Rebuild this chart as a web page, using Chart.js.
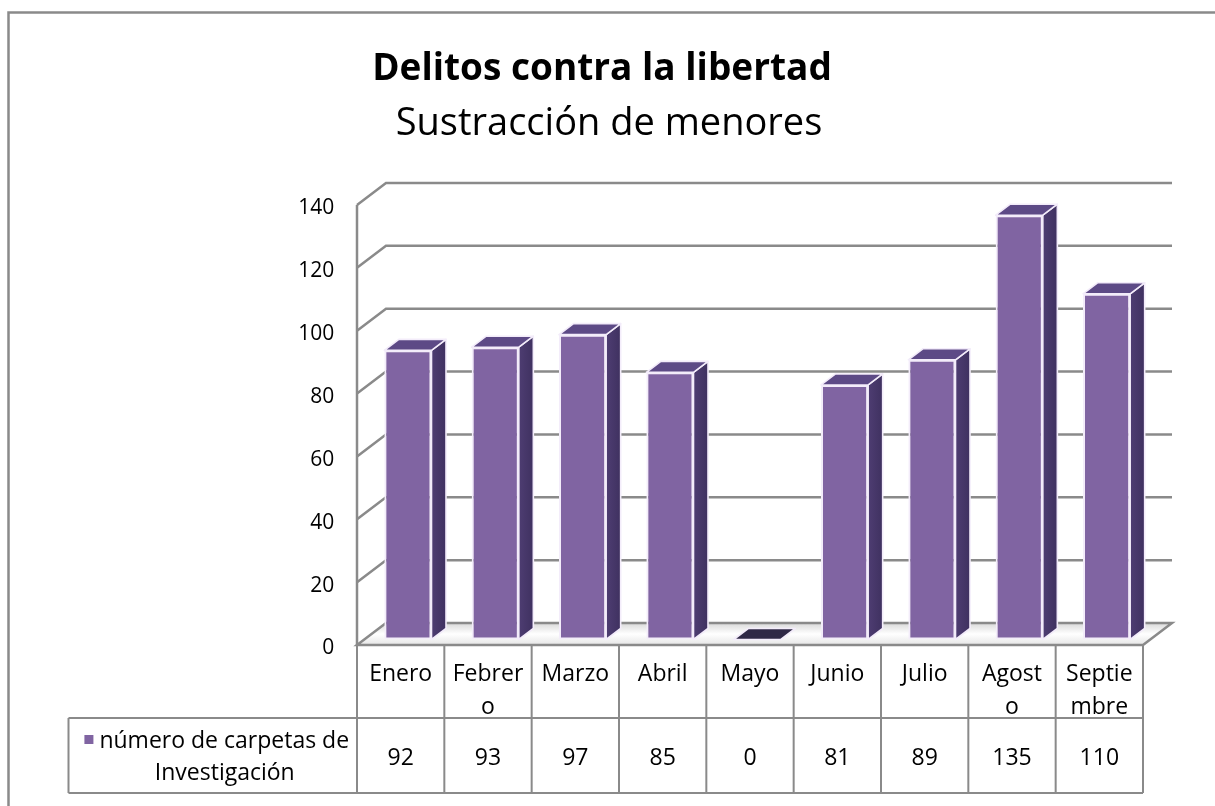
<!DOCTYPE html>
<html>
<head>
<meta charset="utf-8">
<script src="https://cdn.jsdelivr.net/npm/chart.js@4.4.1/dist/chart.umd.min.js"></script>
<style>
  body { margin: 0; background: #fff; }
  canvas { display: block; }
</style>
</head>
<body>
<canvas id="chart" width="1215" height="806"></canvas>
<script>
// Data
const chartTitle = "Delitos contra la libertad";
const chartSubtitle = "Sustracción de menores";
const months = ["Enero", "Febrero", "Marzo", "Abril", "Mayo", "Junio", "Julio", "Agosto", "Septiembre"];
const monthLabels = [["Enero"], ["Febrer", "o"], ["Marzo"], ["Abril"], ["Mayo"], ["Junio"], ["Julio"], ["Agost", "o"], ["Septie", "mbre"]];
const carpetas = [92, 93, 97, 85, 0, 81, 89, 135, 110];
const seriesName = ["número de carpetas de", "Investigación"];
const yTicks = [0, 20, 40, 60, 80, 100, 120, 140];

const FONT = "'Open Sans', sans-serif";
const GRID = "#8a8a8a";
// depth of walls/floor, and shift from the column plane to the front plane
const DEPTH = { x: 29, y: -22 };
const FRONT = { x: -7.25, y: 5.5 };

// border round the whole chart (top + left only are visible) and the titles
const frame = {
  id: "frame",
  beforeDraw(chart) {
    const ctx = chart.ctx;
    ctx.save();
    ctx.strokeStyle = GRID;
    ctx.lineWidth = 2.5;
    ctx.beginPath();
    ctx.moveTo(8.5, 820);
    ctx.lineTo(8.5, 12.5);
    ctx.lineTo(1230, 12.5);
    ctx.stroke();

    ctx.fillStyle = "#000";
    ctx.textAlign = "center";
    ctx.textBaseline = "alphabetic";
    ctx.font = "bold 37px " + FONT;
    ctx.fillText(chartTitle, 602, 80);
    ctx.font = "38px " + FONT;
    ctx.fillText(chartSubtitle, 609, 135);
    ctx.restore();
  }
};

// floor, left wall and back gridlines
const walls = {
  id: "walls",
  beforeDatasetsDraw(chart) {
    const { ctx, chartArea: a, scales: { y } } = chart;
    const x0 = a.left + FRONT.x, x1 = a.right + FRONT.x;
    const fy = y.getPixelForValue(0) + FRONT.y;
    ctx.save();
    ctx.strokeStyle = GRID;
    ctx.lineWidth = 2.5;

    // floor
    const g = ctx.createLinearGradient(0, fy + DEPTH.y, 0, fy);
    g.addColorStop(0, "#d9d9d9");
    g.addColorStop(0.5, "#ffffff");
    g.addColorStop(1, "#e6e6e6");
    ctx.fillStyle = g;
    ctx.beginPath();
    ctx.moveTo(x0, fy);
    ctx.lineTo(x1, fy);
    ctx.lineTo(x1 + DEPTH.x, fy + DEPTH.y);
    ctx.lineTo(x0 + DEPTH.x, fy + DEPTH.y);
    ctx.closePath();
    ctx.fill();
    ctx.stroke();

    // gridlines
    yTicks.forEach(v => {
      if (v === 0) return;
      const py = y.getPixelForValue(v) + FRONT.y;
      ctx.beginPath();
      ctx.moveTo(x0, py);
      ctx.lineTo(x0 + DEPTH.x, py + DEPTH.y);
      ctx.lineTo(x1 + DEPTH.x, py + DEPTH.y);
      ctx.stroke();
    });

    // left wall front edge
    ctx.beginPath();
    ctx.moveTo(x0, y.getPixelForValue(yTicks[yTicks.length - 1]) + FRONT.y);
    ctx.lineTo(x0, fy);
    ctx.stroke();
    ctx.restore();
  }
};

// side and top faces of the columns
const columns3d = {
  id: "columns3d",
  afterDatasetsDraw(chart) {
    const ctx = chart.ctx;
    const dx = DEPTH.x / 2, dy = DEPTH.y / 2;
    ctx.save();
    ctx.strokeStyle = "#f3ecfa";
    ctx.lineWidth = 1.6;
    ctx.lineJoin = "round";
    chart.getDatasetMeta(0).data.forEach(bar => {
      const { x, y, base, width } = bar.getProps(["x", "y", "base", "width"], true);
      const l = x - width / 2, r = x + width / 2;
      const flat = Math.abs(base - y) < 1;

      // side
      if (!flat) {
        const sg = ctx.createLinearGradient(r, 0, r + dx, 0);
        sg.addColorStop(0, "#4e3d72");
        sg.addColorStop(1, "#3f3160");
        ctx.fillStyle = sg;
        ctx.beginPath();
        ctx.moveTo(r, y);
        ctx.lineTo(r + dx, y + dy);
        ctx.lineTo(r + dx, base + dy);
        ctx.lineTo(r, base);
        ctx.closePath();
        ctx.fill();
        ctx.stroke();
      }

      // top
      ctx.fillStyle = flat ? "#2f2846" : "#5d4a86";
      ctx.beginPath();
      ctx.moveTo(l, y);
      ctx.lineTo(l + dx, y + dy);
      ctx.lineTo(r + dx, y + dy);
      ctx.lineTo(r, y);
      ctx.closePath();
      ctx.fill();
      ctx.stroke();
    });
    ctx.restore();
  }
};

// data table under the plot
const dataTable = {
  id: "dataTable",
  afterDraw(chart) {
    const { ctx, chartArea: a, scales: { x, y } } = chart;
    const left = a.left + FRONT.x, right = a.right + FRONT.x;
    const top = y.getPixelForValue(0) + FRONT.y;
    const mid = top + 73, bottom = mid + 75;
    const legendLeft = 68.5;
    const step = (right - left) / months.length;

    ctx.save();
    ctx.strokeStyle = GRID;
    ctx.lineWidth = 2;
    ctx.beginPath();
    ctx.moveTo(left, top); ctx.lineTo(right, top);
    ctx.moveTo(legendLeft, mid); ctx.lineTo(right, mid);
    ctx.moveTo(legendLeft, bottom); ctx.lineTo(right, bottom);
    ctx.moveTo(legendLeft, mid); ctx.lineTo(legendLeft, bottom);
    for (let i = 0; i <= months.length; i++) {
      const cx = left + i * step;
      ctx.moveTo(cx, top); ctx.lineTo(cx, bottom);
    }
    ctx.stroke();

    ctx.fillStyle = "#000";
    ctx.font = "23px " + FONT;
    ctx.textAlign = "center";
    ctx.textBaseline = "middle";
    months.forEach((m, i) => {
      const cx = x.getPixelForValue(i) + FRONT.x;
      monthLabels[i].forEach((line, j) => {
        ctx.fillText(line, cx, top + 29 + j * 33);
      });
      ctx.fillText(String(carpetas[i]), cx, (mid + bottom) / 2 + 3);
    });

    // legend key
    const w1 = ctx.measureText(seriesName[0]).width;
    const block = 9 + 6 + w1;
    const lc = (legendLeft + left) / 2 + 4;
    const sx = lc - block / 2;
    ctx.fillStyle = "#8064a2";
    ctx.fillRect(sx, mid + 17, 9, 9);
    ctx.fillStyle = "#000";
    ctx.textAlign = "left";
    ctx.fillText(seriesName[0], sx + 15, mid + 23);
    ctx.textAlign = "center";
    ctx.fillText(seriesName[1], lc + 8, mid + 55);
    ctx.restore();
  }
};

const ctx = document.getElementById("chart").getContext("2d");
new Chart(ctx, {
  type: "bar",
  data: {
    labels: months,
    datasets: [
      {
        label: seriesName.join(" "),
        data: carpetas,
        backgroundColor: (c) => {
          const el = c.element;
          const chart = c.chart;
          if (!el || !chart.chartArea) return "#8064a2";
          const { x, width } = el.getProps(["x", "width"], true);
          if (!width) return "#8064a2";
          const g = chart.ctx.createLinearGradient(x - width / 2, 0, x + width / 2, 0);
          g.addColorStop(0, "#7f62ad");
          g.addColorStop(0.3, "#8a6cb8");
          g.addColorStop(0.6, "#8266b0");
          g.addColorStop(1, "#7a5da6");
          return g;
        },
        borderColor: "#f3ecfa",
        borderWidth: 2,
        borderSkipped: false,
        categoryPercentage: 1,
        barPercentage: 0.54,
      },
    ],
  },
  options: {
    responsive: false,
    animation: false,
    layout: {
      padding: { left: 0, right: 64.75, top: 199.5, bottom: 166.5 },
    },
    scales: {
      x: {
        display: false,
      },
      y: {
        min: 0,
        max: 140,
        afterFit: (s) => { s.width = 364.25; },
        afterBuildTicks: (s) => { s.ticks = yTicks.map(v => ({ value: v })); },
        border: { display: false },
        grid: { display: false, drawTicks: false },
        ticks: {
          color: "#000",
          padding: 30,
          labelOffset: 9,
          font: { family: FONT, size: 21 },
        },
      },
    },
    plugins: {
      legend: { display: false },
      tooltip: { enabled: false },
      title: { display: false },
    },
  },
  plugins: [frame, walls, columns3d, dataTable],
});
</script>
</body>
</html>
